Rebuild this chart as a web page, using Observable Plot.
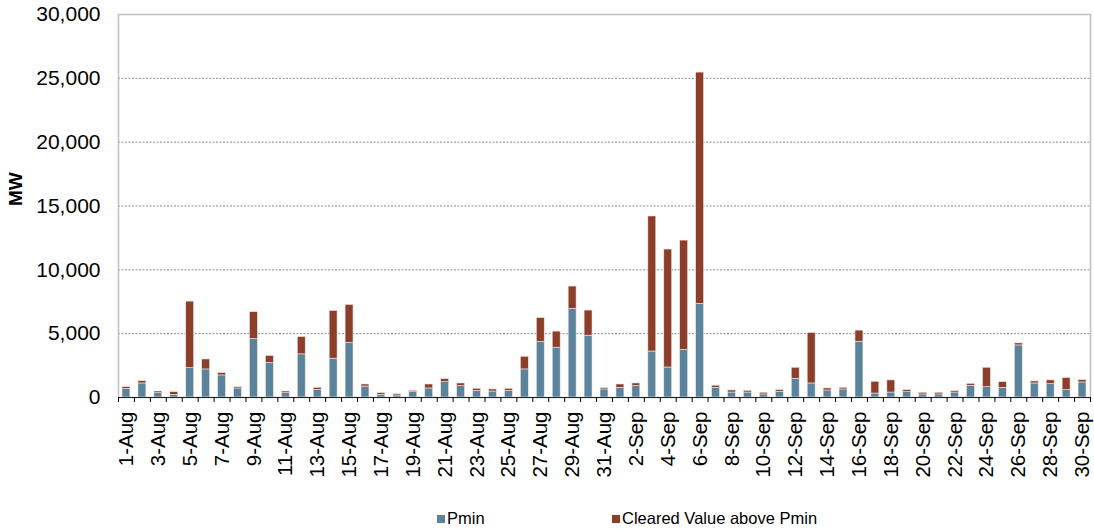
<!DOCTYPE html>
<html>
<head>
<meta charset="utf-8">
<script src="https://cdn.jsdelivr.net/npm/d3@7"></script>
<script src="https://cdn.jsdelivr.net/npm/@observablehq/plot@0.6"></script>
<style>
  html, body { margin: 0; padding: 0; background: #fff; }
  #wrap { position: relative; width: 1094px; height: 529px; font-family: "Liberation Sans", Arial, sans-serif; }
  .leg { position: absolute; top: 508px; font-size: 16.5px; color: #000; white-space: nowrap; line-height: 20px; }
  .sw { display: inline-block; width: 8px; height: 8px; margin-right: 2px; vertical-align: 1px; }
</style>
</head>
<body>
<div id="wrap"></div>
<script>
// Days (1-Aug .. 30-Sep)
const dayLabels = [
  "1-Aug","2-Aug","3-Aug","4-Aug","5-Aug","6-Aug","7-Aug","8-Aug","9-Aug","10-Aug",
  "11-Aug","12-Aug","13-Aug","14-Aug","15-Aug","16-Aug","17-Aug","18-Aug","19-Aug","20-Aug",
  "21-Aug","22-Aug","23-Aug","24-Aug","25-Aug","26-Aug","27-Aug","28-Aug","29-Aug","30-Aug","31-Aug",
  "1-Sep","2-Sep","3-Sep","4-Sep","5-Sep","6-Sep","7-Sep","8-Sep","9-Sep","10-Sep",
  "11-Sep","12-Sep","13-Sep","14-Sep","15-Sep","16-Sep","17-Sep","18-Sep","19-Sep","20-Sep",
  "21-Sep","22-Sep","23-Sep","24-Sep","25-Sep","26-Sep","27-Sep","28-Sep","29-Sep","30-Sep"
];
// Pmin (MW)
const pmin = [
  680,1100,340,210,2300,2200,1730,710,4580,2700,
  340,3380,600,3040,4270,860,210,160,420,710,
  1200,890,520,470,520,2200,4350,3900,6940,4840,630,
  760,890,3600,2350,3720,7330,760,390,390,240,
  450,1470,1100,550,630,4370,310,390,420,240,
  240,390,920,810,760,4080,1100,1050,580,1180
];
// Cleared Value above Pmin (MW)
const abovePmin = [
  130,180,130,210,5210,780,180,100,2100,550,
  130,1360,160,3740,2980,160,130,100,100,310,
  240,210,160,160,160,990,1880,1260,1750,1970,100,
  260,210,10580,9240,8570,18120,160,160,130,130,
  130,860,3950,160,130,870,920,950,160,130,
  130,110,150,1520,440,160,160,290,940,180
];
const seriesNames = ["Pmin", "Cleared Value above Pmin"];
const seriesColors = ["#5b849c", "#8b3e2a"];
const yTicks = [0, 5000, 10000, 15000, 20000, 25000, 30000];

const monthIndex = {Aug: 7, Sep: 8};
const toDate = (lab) => {
  const [d, m] = lab.split("-");
  return new Date(Date.UTC(2013, monthIndex[m], +d));
};
const dates = dayLabels.map(toDate);
const rows = [];
dates.forEach((dt, i) => rows.push({date: dt, label: dayLabels[i], series: seriesNames[0], value: pmin[i]}));
dates.forEach((dt, i) => rows.push({date: dt, label: dayLabels[i], series: seriesNames[1], value: abovePmin[i]}));

const start = dates[0];
const end = d3.utcDay.offset(dates[dates.length - 1], 1);
const boundaries = d3.utcDay.range(start, d3.utcDay.offset(end, 1));
const labelTicks = dates.filter((d, i) => i % 2 === 0).map(d => d3.utcHour.offset(d, 12));
const labelFor = (d) => dayLabels[d3.utcDay.count(start, d)];

const chart = Plot.plot({
  width: 1094,
  height: 505,
  marginLeft: 118,
  marginRight: 4,
  marginTop: 14,
  marginBottom: 108,
  style: {fontFamily: "'Liberation Sans', Arial, sans-serif", background: "#fff", color: "#000"},
  x: {type: "utc", domain: [start, end]},
  y: {domain: [0, 30000]},
  color: {domain: seriesNames, range: seriesColors},
  marks: [
    Plot.gridY(yTicks.filter(t => t > 0 && t < 30000), {stroke: "#8c8c8c", strokeOpacity: 1, strokeDasharray: "2,1.5", strokeWidth: 1}),
    Plot.frame({stroke: "#bfbfbf", strokeWidth: 1.5}),
    Plot.rectY(rows, {x: "date", y: "value", fill: "series", interval: "day", insetLeft: 4, insetRight: 4, stroke: "#f2e6e3", strokeWidth: 0.6, order: seriesNames}),
    Plot.ruleY([0], {stroke: "#222", strokeWidth: 1}),
    Plot.axisY({ticks: yTicks, tickSize: 0, tickPadding: 18, tickFormat: d3.format(","), fontSize: 21, label: null}),
    Plot.axisX({ticks: boundaries, tickSize: 5, tickFormat: () => "", label: null}),
    Plot.axisX({ticks: labelTicks, tickSize: 0, tickPadding: 14, tickRotate: -90, fontSize: 20.5, tickFormat: labelFor, label: null}),
    Plot.text(["MW"], {frameAnchor: "left", dx: -103, rotate: -90, fontSize: 19, fontWeight: "bold", text: d => d})
  ]
});

const wrap = document.getElementById("wrap");
wrap.appendChild(chart);
const leg = [
  {name: seriesNames[0], color: seriesColors[0], left: 437},
  {name: seriesNames[1], color: seriesColors[1], left: 612}
];
leg.forEach(l => {
  const el = document.createElement("div");
  el.className = "leg";
  el.style.left = l.left + "px";
  el.innerHTML = `<span class="sw" style="background:${l.color}"></span>${l.name}`;
  wrap.appendChild(el);
});
</script>
</body>
</html>
